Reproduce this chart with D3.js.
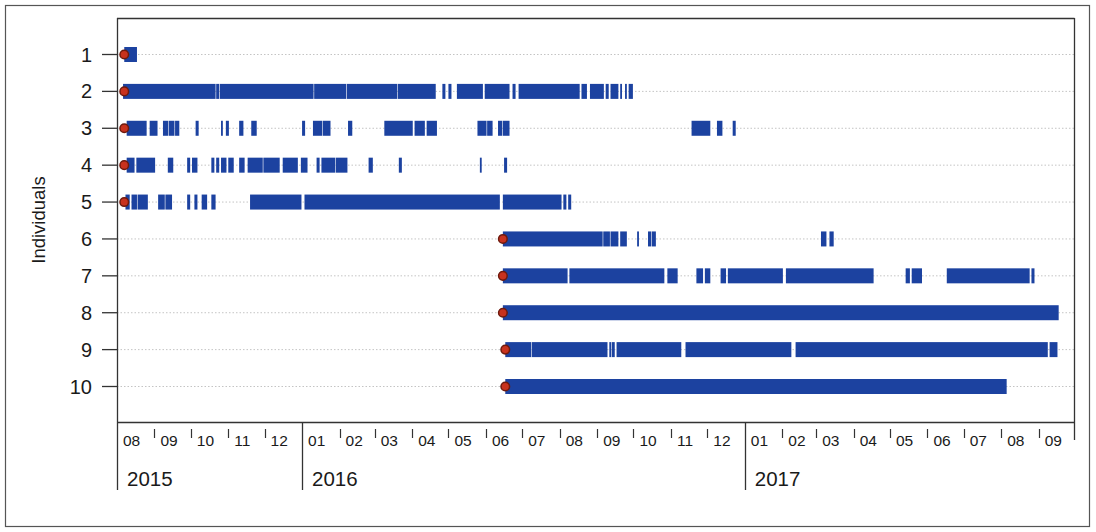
<!DOCTYPE html>
<html>
<head>
<meta charset="utf-8">
<script src="https://cdn.jsdelivr.net/npm/d3@7"></script>
<style>
  body { margin: 0; background: #fff; }
  svg { display: block; }
  text { font-family: "Liberation Sans", Arial, sans-serif; fill: #1a1a1a; }
</style>
</head>
<body>
<svg id="chart" width="1096" height="532"></svg>
<script>
// Tracked individuals and the date each one was tagged
const individuals = [1, 2, 3, 4, 5, 6, 7, 8, 9, 10];
const captureDates = [
  "2015-08-07", "2015-08-07", "2015-08-07", "2015-08-07", "2015-08-07",
  "2016-06-15", "2016-06-15", "2016-06-15", "2016-06-17", "2016-06-17"
];

// Periods of detection per individual: [first day, last day]
const track1 = [["2015-08-07", "2015-08-17"]];
const track2 = [
  ["2015-08-06", "2015-10-21"], ["2015-10-22", "2015-10-24"], ["2015-10-25", "2016-01-10"],
  ["2016-01-11", "2016-02-06"], ["2016-02-07", "2016-03-19"], ["2016-03-20", "2016-04-20"],
  ["2016-04-26", "2016-04-28"], ["2016-05-01", "2016-05-03"], ["2016-05-08", "2016-05-29"],
  ["2016-05-31", "2016-06-20"], ["2016-06-23", "2016-06-25"], ["2016-06-28", "2016-08-17"],
  ["2016-08-19", "2016-08-23"], ["2016-08-26", "2016-09-06"], ["2016-09-08", "2016-09-10"],
  ["2016-09-12", "2016-09-18"], ["2016-09-20", "2016-09-21"], ["2016-09-24", "2016-09-25"],
  ["2016-09-27", "2016-09-30"]
];
const track3 = [
  ["2015-08-09", "2015-08-25"], ["2015-08-28", "2015-09-03"], ["2015-09-08", "2015-09-12"],
  ["2015-09-13", "2015-09-17"], ["2015-09-18", "2015-09-21"], ["2015-10-05", "2015-10-07"],
  ["2015-10-26", "2015-10-27"], ["2015-10-30", "2015-11-01"], ["2015-11-10", "2015-11-13"],
  ["2015-11-20", "2015-11-24"], ["2016-01-01", "2016-01-03"], ["2016-01-10", "2016-01-17"],
  ["2016-01-18", "2016-01-24"], ["2016-02-08", "2016-02-11"], ["2016-03-09", "2016-04-01"],
  ["2016-04-03", "2016-04-11"], ["2016-04-13", "2016-04-21"], ["2016-05-25", "2016-06-01"],
  ["2016-06-02", "2016-06-06"], ["2016-06-11", "2016-06-14"], ["2016-06-15", "2016-06-20"],
  ["2016-11-18", "2016-12-03"], ["2016-12-09", "2016-12-13"], ["2016-12-22", "2016-12-24"]
];
const track4 = [
  ["2015-08-09", "2015-08-15"], ["2015-08-17", "2015-09-01"], ["2015-09-12", "2015-09-16"],
  ["2015-09-28", "2015-09-30"], ["2015-10-02", "2015-10-06"], ["2015-10-18", "2015-10-20"],
  ["2015-10-22", "2015-10-24"], ["2015-10-26", "2015-10-30"], ["2015-11-01", "2015-11-05"],
  ["2015-11-10", "2015-11-14"], ["2015-11-17", "2015-11-29"], ["2015-11-30", "2015-12-13"],
  ["2015-12-16", "2015-12-28"], ["2015-12-31", "2016-01-05"], ["2016-01-13", "2016-01-15"],
  ["2016-01-17", "2016-01-28"], ["2016-01-29", "2016-02-07"], ["2016-02-25", "2016-02-28"],
  ["2016-03-21", "2016-03-23"], ["2016-05-27", "2016-05-28"], ["2016-06-16", "2016-06-18"]
];
const track5 = [
  ["2015-08-08", "2015-08-11"], ["2015-08-13", "2015-08-17"], ["2015-08-18", "2015-08-26"],
  ["2015-09-04", "2015-09-09"], ["2015-09-10", "2015-09-15"], ["2015-09-28", "2015-09-30"],
  ["2015-10-04", "2015-10-06"], ["2015-10-10", "2015-10-14"], ["2015-10-18", "2015-10-21"],
  ["2015-11-19", "2015-12-31"], ["2016-01-03", "2016-06-12"], ["2016-06-15", "2016-08-02"],
  ["2016-08-04", "2016-08-06"], ["2016-08-08", "2016-08-10"]
];
const track6 = [
  ["2016-06-15", "2016-09-05"], ["2016-09-06", "2016-09-11"], ["2016-09-12", "2016-09-18"],
  ["2016-09-20", "2016-09-25"], ["2016-10-04", "2016-10-05"], ["2016-10-13", "2016-10-15"],
  ["2016-10-16", "2016-10-19"], ["2017-03-05", "2017-03-09"], ["2017-03-12", "2017-03-15"]
];
const track7 = [
  ["2016-06-15", "2016-08-07"], ["2016-08-09", "2016-10-26"], ["2016-10-29", "2016-11-06"],
  ["2016-11-22", "2016-11-27"], ["2016-11-29", "2016-12-03"], ["2016-12-12", "2016-12-16"],
  ["2016-12-18", "2017-02-01"], ["2017-02-04", "2017-04-17"], ["2017-05-14", "2017-05-17"],
  ["2017-05-19", "2017-05-27"], ["2017-06-17", "2017-08-24"], ["2017-08-26", "2017-08-28"]
];
const track8 = [["2016-06-15", "2017-09-17"]];
const track9 = [
  ["2016-06-17", "2016-07-08"], ["2016-07-09", "2016-09-09"], ["2016-09-11", "2016-09-12"],
  ["2016-09-13", "2016-09-15"], ["2016-09-17", "2016-11-09"], ["2016-11-13", "2017-02-08"],
  ["2017-02-12", "2017-09-08"], ["2017-09-10", "2017-09-16"]
];
const track10 = [["2016-06-17", "2017-08-05"]];
const tracks = [track1, track2, track3, track4, track5, track6, track7, track8, track9, track10];

// Axis labels
const monthLabels = [
  "08", "09", "10", "11", "12",
  "01", "02", "03", "04", "05", "06", "07", "08", "09", "10", "11", "12",
  "01", "02", "03", "04", "05", "06", "07", "08", "09"
];
const yearLabels = ["2015", "2016", "2017"];
const axisStart = "2015-08-01";
const axisEnd = "2017-10-01";
const yTitle = "Individuals";

const parse = d3.timeParse("%Y-%m-%d");
const svg = d3.select("#chart");

const plotLeft = 117, plotRight = 1075, plotTop = 18, axisY = 422;
const x = d3.scaleTime().domain([parse(axisStart), parse(axisEnd)]).range([plotLeft, plotRight]);
const y = d3.scaleLinear().domain([1, 10]).range([54, 386]);
const dayW = x(parse("2016-01-02")) - x(parse("2016-01-01"));
const ink = "#333";
const barColor = "#1c42a0";
const barH = 15;

// Outer frame
svg.append("rect")
  .attr("x", 5.5).attr("y", 5.5).attr("width", 1084).attr("height", 521)
  .attr("fill", "none").attr("stroke", "#555").attr("stroke-width", 1.2);

// Dotted guide lines behind each individual
svg.append("g").selectAll("line").data(individuals).join("line")
  .attr("x1", plotLeft).attr("x2", plotRight - 1)
  .attr("y1", d => y(d) + 0.5).attr("y2", d => y(d) + 0.5)
  .attr("stroke", "#c4c4c4").attr("stroke-width", 1)
  .attr("stroke-dasharray", "1.5,2");

// Detection periods
const bars = svg.append("g");
tracks.forEach((track, i) => {
  bars.append("g").selectAll("rect").data(track).join("rect")
    .attr("x", d => x(parse(d[0])))
    .attr("width", d => Math.max(1, x(parse(d[1])) + dayW - x(parse(d[0])) - 0.6))
    .attr("y", y(individuals[i]) - barH / 2 + 0.5)
    .attr("height", barH)
    .attr("fill", barColor);
});

// Tagging dates
svg.append("g").selectAll("circle").data(individuals).join("circle")
  .attr("cx", (d, i) => x(parse(captureDates[i])))
  .attr("cy", d => y(d) + 0.5)
  .attr("r", 4.3)
  .attr("fill", "#c8321e")
  .attr("stroke", "#6e1a0e")
  .attr("stroke-width", 1.5);

// Plot box
const box = svg.append("g").attr("stroke", ink).attr("stroke-width", 1.3).attr("fill", "none");
box.append("line").attr("x1", plotLeft).attr("x2", plotRight - 0.5).attr("y1", plotTop + 0.5).attr("y2", plotTop + 0.5);
box.append("line").attr("x1", plotRight - 0.5).attr("x2", plotRight - 0.5).attr("y1", plotTop).attr("y2", 440);
box.append("line").attr("x1", plotLeft + 0.5).attr("x2", plotLeft + 0.5).attr("y1", plotTop).attr("y2", 490);
box.append("line").attr("x1", plotLeft).attr("x2", plotRight - 0.5).attr("y1", axisY + 0.5).attr("y2", axisY + 0.5);

// Y axis ticks and labels
const yAxis = svg.append("g");
yAxis.selectAll("line").data(individuals).join("line")
  .attr("x1", 102).attr("x2", plotLeft)
  .attr("y1", d => y(d) + 0.5).attr("y2", d => y(d) + 0.5)
  .attr("stroke", ink).attr("stroke-width", 1.3);
yAxis.selectAll("text").data(individuals).join("text")
  .attr("x", 92).attr("y", d => y(d) + 7.5)
  .attr("text-anchor", "end")
  .attr("font-size", 20)
  .text(d => d);
svg.append("text")
  .attr("transform", `translate(45,${(y(1) + y(10)) / 2}) rotate(-90)`)
  .attr("text-anchor", "middle")
  .attr("font-size", 18.5)
  .text(yTitle);

// Month ticks and labels
const months = d3.timeMonth.range(parse(axisStart), parse(axisEnd));
const xAxis = svg.append("g");
xAxis.selectAll("line").data(months.filter(m => m.getMonth() !== 0 && +m !== +parse(axisStart))).join("line")
  .attr("x1", d => Math.round(x(d)) + 0.5).attr("x2", d => Math.round(x(d)) + 0.5)
  .attr("y1", 429).attr("y2", 438)
  .attr("stroke", ink).attr("stroke-width", 1.2);
xAxis.selectAll("text").data(months).join("text")
  .attr("x", d => x(d) + 6).attr("y", 446)
  .attr("font-size", 15.5)
  .text((d, i) => monthLabels[i]);

// Year separators and labels
const years = months.filter((m, i) => i === 0 || m.getMonth() === 0);
xAxis.selectAll(".year-line").data(years.slice(1)).join("line")
  .attr("class", "year-line")
  .attr("x1", d => Math.round(x(d)) + 0.5).attr("x2", d => Math.round(x(d)) + 0.5)
  .attr("y1", axisY).attr("y2", 490)
  .attr("stroke", ink).attr("stroke-width", 1.3);
xAxis.selectAll(".year-label").data(years).join("text")
  .attr("class", "year-label")
  .attr("x", d => x(d) + 10).attr("y", 486)
  .attr("font-size", 20.5)
  .text((d, i) => yearLabels[i]);
</script>
</body>
</html>
